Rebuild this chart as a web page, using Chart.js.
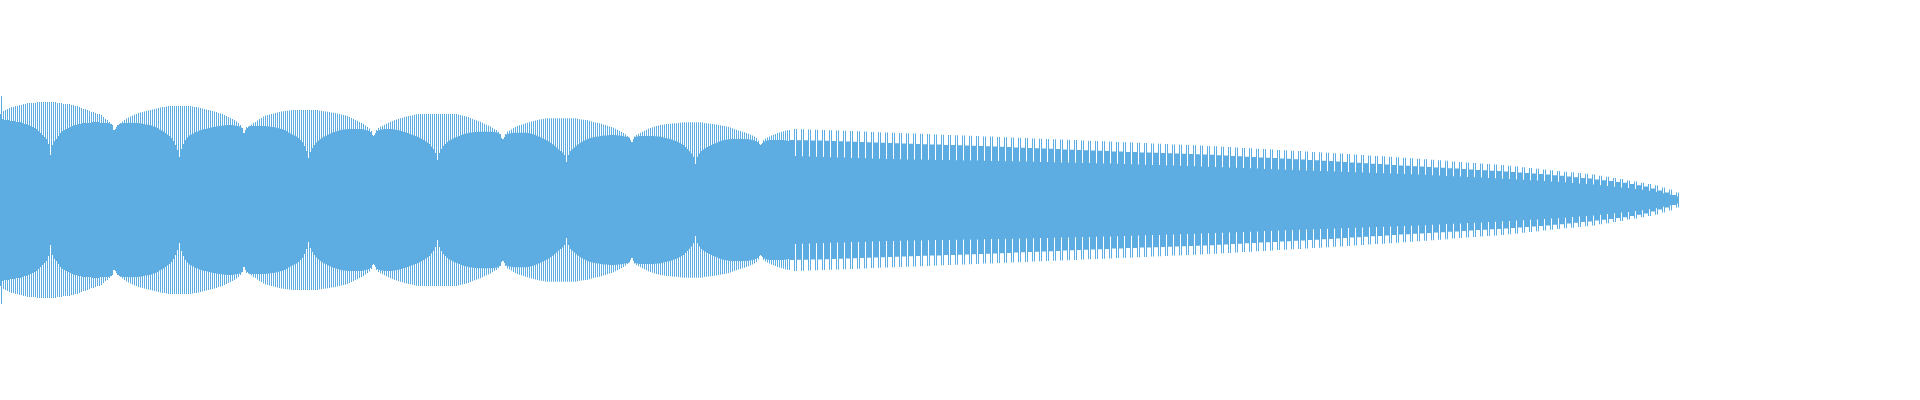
<!DOCTYPE html>
<html>
<head>
<meta charset="utf-8">
<script src="https://cdn.jsdelivr.net/npm/chart.js@4.4.1/dist/chart.umd.min.js"></script>
<style>
  html, body { margin: 0; padding: 0; background: #ffffff; }
  #wrap { width: 1920px; height: 400px; position: relative; }
</style>
</head>
<body>
<div id="wrap"><canvas id="c"></canvas></div>
<script>
// Waveform amplitude (half-height) per sample.
// Dense part: even and odd samples, 395 each.
const evenAmp = [
  86,81,80,80,80,79,79,79,78,78, 78,77,76,76,75,74,73,72,71,69, 67,65,63,61,56,45,55,59,61,64, 67,69,70,71,72,73,74,75,75,76, 76,77,77,77,77,77,78,78,78,78, 77,77,77,77,77,76,75,
  70,73,75,77,78.5,80,81.5,82.5,83.5,84.5, 85.5,86,87,87.5,88,88.5,89,89.5,90,90.5, 91,91.5,92,92.5,93,93,93.5,94,94,94, 94,94,94,94,94,94,94,94,94,93.5, 93,93,92.5,92,91.5,91,90.5,90,89.5,89, 88.5,88,87,86.5,86,85,84,83,82,81, 80,78.5,77,75,72,
  67,73,73.5,74,74,74,74,74,74,74, 74,73.7,73.5,73.3,73,72.7,72.3,71.7,71.3,70.7, 70,69,67.5,66.5,65.5,64.5,63.5,62,60,58, 54,49,42,48,52,55,57.5,59.5,61,62.5, 63.5,64.5,65.5,66.5,67.5,68,68.7,69.3,70,70.3, 70.5,70.8,71,71,71,71,71,71,71,70.7, 70.3,69.7,69.3,68,65,
  65,70,72,73.3,74.3,75.3,76.2,77.2,78.3,79, 79.7,80.4,81,81.7,82.3,83,83.5,84,84.3,84.8, 85.3,85.7, 86,86,86,86,86,86,86,86,86,86,86,86,86,86,86,86,86,86,86,86, 85.5,85,84.5,84,83.5,83,82,81,80.3,79.7, 79,78.3,77.3,76.3,75.3,74.5,73.5,72.3,71,70, 68.3,66,
  61,63,65.5,66.3,66.7,67,67.2,67.3,67.3,67.3, 67.3,67.3,67.3,67,66.5,66,65.3,64.5,63.5,62.7, 61.7,60.7,59.7,58.7,57.3,55.7,54.3,52.5,50.7,49, 47.5,45,38,45,49,50.7,52.5,54.3,55.8,57.2, 58.6,59.5,60.4,61.2,61.9,62.5,62.9,63.3,63.6,63.9, 64.2,64.4,64.6,64.8,64.9,65,65,64.8,64.6,64.3, 64,63.6,63.2,62.7,60,
  58,63.5,65,66.3,67.3,68.3,69.3,70.3,71.2,72, 72.8,73.5,74,74.5,75,75.3,75.6,75.9,76.1,76.3, 76.5,76.7,76.8,77,77.2,77.5,77.7,77.7,77.7,77.7, 77.7,77.7,77.7,77.7,77.7,77.4,77.1,76.8,76.6,76.3, 76.1,75.8,75.4,75,74.8,74.3,73.9,73.5,73,72.4, 71.7,71,70.3,69.6,69,68.3,67.7,67,66.3,65.5, 64.5,63.5,62,59.5,
  55,57,58.5,59.3,59.7,60,60,60,60,60,60,60,59.7,59.4,59
];
const oddAmp = [
  104,89,90,91,92,93,93,94,94,95, 95,96,96,97,97,97,97,97,98,98, 98,98,98,98,98,98,98,98,97,97, 97,96,96,96,96,95,95,94,94,93, 92,91,91,90,89,88,88,87,86,86, 85,83,81,80,78,76,70,
  71,75,76,76.5,77,77,77,77.3,77.3,77, 77,77,76.7,76.5,76,75.5,75.2,75,74.5,73.5, 73,72,70.5,69.5,68.5,67,65.5,64,62,59, 55,50,43,51,56,60,62.5,64.5,65.5,66.5, 68,68.5,69.5,70,70.7,71,71.5,72,72.5,73, 73.3,73.7,74,74.3,74.5,74.7,75,75,75,74.7, 74.3,74,73.5,72.5,67,
  70,72,74,75.5,77,78,79.5,81,82,83.5, 84.5,85,85.5,86,86.5,87,87.5,88,88.5,88.8, 89,89.3,89.5,89.7,90, 90,90,90,90,90,90,90,90,90,90,90,90, 89.3,89,88.7,88.5,88.3,88,87.5,87.3,87,86.5, 86,85.5,85,84.5,84,83,82,81,80,79.3, 78,77,76,74.5,73,71.5,69,
  64,67,69,70,70.5,70.7,71,71,71,71, 70.7,70.3,70,69.5,69,68.3,67.7,67,66.3,65.5, 64.8,64,63.3,62.3,61.2,60,58.8,57.5,56,53.5, 51,47,40,47,51,54,56,58,59.5,60.5, 61.5,62.5,63.3,64,65,65.7,66.2,66.7,67.2,67.5, 67.8,68,68.2,68.3,68.3,68.3,68.3,68.3,68.3,68.3, 68,67.7,67.3,66,62,
  61,66,68.5,69.5,70.5,72,73,74,74.7,75.3, 76,76.7,77.3,77.8,78.5,79,79.5,80,80.5,80.8, 81.1,81.4,81.7, 81.7,81.7,81.7,81.7,81.7,81.7,81.7,81.7,81.7,81.7,81.7,81.7,81.7,81.7, 81.2,80.8,80.6,80.3,80.1,80,79.3,78.7,78,77.6, 77.2,76.8,76.3,75.6,75,74.3,73.6,73,72.3,71.3, 70.3,69.3,68,67,65.7,64,62.5,
  58,61,63.3,63.6,63.9,64,64,64,64,64, 64,64,63.8,63.6,63.4,63.1,62.5,62,61.6,61.2, 60.5,59.8,59,58.3,57.3,56.2,55,53,51,48.7, 46.5,43.3,36,43.3,46.5,49,50.5,51.7,53,54, 55,56,56.8,57.5,58.5,59.2,59.7,60.2,60.6,60.8, 61,61,61,61,61,61,61,61,61,60.6, 60.2,59.8,59,58,56,
  56,60,61.5,62.5,63.5,64.5,65.3,66,67,67.5,68,68.7,69.2,69.7,70
];

// Tapering part: 127 cycles of 7 samples (four mid samples, a tall one, a low one, a tall one).
const midAmp = [
  60,59.8,59.7,59.5,59.4,59.2,59,58.8,58.5,58.3,58,57.8,57.5,57.3,57,
  56.8,56.5,56.3,56.1,55.8,55.6,55.4,55.1,54.9,54.7,54.4,54.2,54,53.7,53.5,
  53.2,52.9,52.6,52.3,52,51.7,51.5,51.2,50.9,50.6,50.3,50,49.7,49.5,49.2,48.9,
  48.6,48.4,48.1,47.9,47.6,47.4,47.2,46.9,46.7,46.4,46.2,46,45.7,45.5,
  45.2,44.8,44.4,44.1,43.7,43.3,43,42.6,42.3,41.9,41.5,41.2,40.8,40.4,40.1,
  39.8,39.3,38.9,38.5,38,37.6,37.2,36.7,36.3,35.9,35.5,35,34.6,34.2,
  33.8,33.4,33,32.6,32.2,31.8,31.4,31,30.5,30.1,29.7,29.3,28.9,28.5,
  28,27.5,27,26.5,26,25.5,
  24.8,24.2,23.5,22.8,22.1,
  21.4,20.6,19.7,18.9,18,
  17.3,16,14.7,13.5,
  11.5,9.5,7.5,5
];
const tallAmp = [
  71,70.8,70.5,70.3,70,69.8,69.5,
  69.3,69,68.7,68.4,68.1,67.8,67.5,67.3,
  67,66.7,66.4,66.2,65.9,65.6,65.3,65,64.8,64.5,64.2,63.9,63.6,63.4,63.1,
  62.8,62.5,62.2,61.9,61.6,61.3,61,60.8,60.5,60.2,59.9,59.6,59.3,59,58.7,58.4,
  58.1,57.8,57.5,57.2,56.9,56.5,56.2,55.9,55.6,55.3,55,54.7,54.4,54,
  53.7,53.3,52.9,52.5,52.1,51.7,51.3,50.9,50.5,50.1,49.7,49.3,48.9,48.5,48.1,
  47.7,47.3,46.8,46.4,45.9,45.5,45,44.6,44.1,43.7,43.2,42.8,42.3,41.8,
  41.3,40.8,40.2,39.7,39.2,38.6,38.1,37.6,37,36.5,36,35.4,34.9,34.3,
  33.6,32.8,32,31.3,30.5,29.7,
  29,28.3,27.7,27,26.3,
  25.4,24.3,23.2,22,20.9,
  19.6,18.4,17.2,16,
  14.7,12.4,10.5,7.5
];
const gapAmp = [
  44,43.8,43.5,43.3,43.1,42.8,42.6,42.4,42.1,41.9,41.7,41.4,41.2,41,
  40.9,40.8,40.6,40.5,40.4,40.3,40.1,40,39.9,39.8,39.6,39.5,39.4,39.3,39.1,39,
  38.8,38.7,38.5,38.4,38.2,38,37.9,37.7,37.6,37.4,37.2,37.1,36.9,36.8,36.6,36.4,
  36.2,36,35.7,35.5,35.3,35.1,34.9,34.6,34.4,34.2,34,33.7,33.5,33.3,
  33.1,32.8,32.5,32.2,32,31.7,31.4,31.1,30.8,30.6,30.3,30,29.7,29.4,29.2,
  29,28.7,28.5,28.3,28,27.8,27.5,27.3,27.1,26.8,26.6,26.3,26.1,25.8,
  25.5,25.2,24.8,24.5,24.1,23.8,23.4,23.1,22.7,22.4,22,21.7,21.3,21,
  20.6,20.2,19.8,19.4,19,18.6,
  18.2,17.7,17.1,16.6,16,
  15.5,14.8,14,13.3,12.6,
  11.9,11,10.2,9.3,
  8.2,6.8,5.3,3.5
];

// Assemble the sample sequence from the arrays above.
const amps = [];
for (let k = 0; k < evenAmp.length; k++) {
  amps.push(evenAmp[k], oddAmp[k]);
}
for (let g = 0; g < midAmp.length; g++) {
  amps.push(midAmp[g], midAmp[g], midAmp[g], midAmp[g], tallAmp[g], gapAmp[g], tallAmp[g]);
}
const labels = amps.map((_, i) => String(i));
const floating = amps.map(v => [-v, v]);

new Chart(document.getElementById('c'), {
  type: 'bar',
  data: {
    labels: labels,
    datasets: [{
      label: 'Amplitude',
      data: floating,
      backgroundColor: '#5DADE2',
      borderWidth: 0,
      barPercentage: 1,
      categoryPercentage: 1,
      inflateAmount: 0
    }]
  },
  options: {
    responsive: true,
    maintainAspectRatio: false,
    animation: false,
    events: [],
    layout: { padding: { left: 0, right: 1920 - amps.length, top: 0, bottom: 0 } },
    plugins: { legend: { display: false }, tooltip: { enabled: false } },
    scales: {
      x: { display: false },
      y: { display: false, min: -200, max: 200 }
    }
  }
});
</script>
</body>
</html>
